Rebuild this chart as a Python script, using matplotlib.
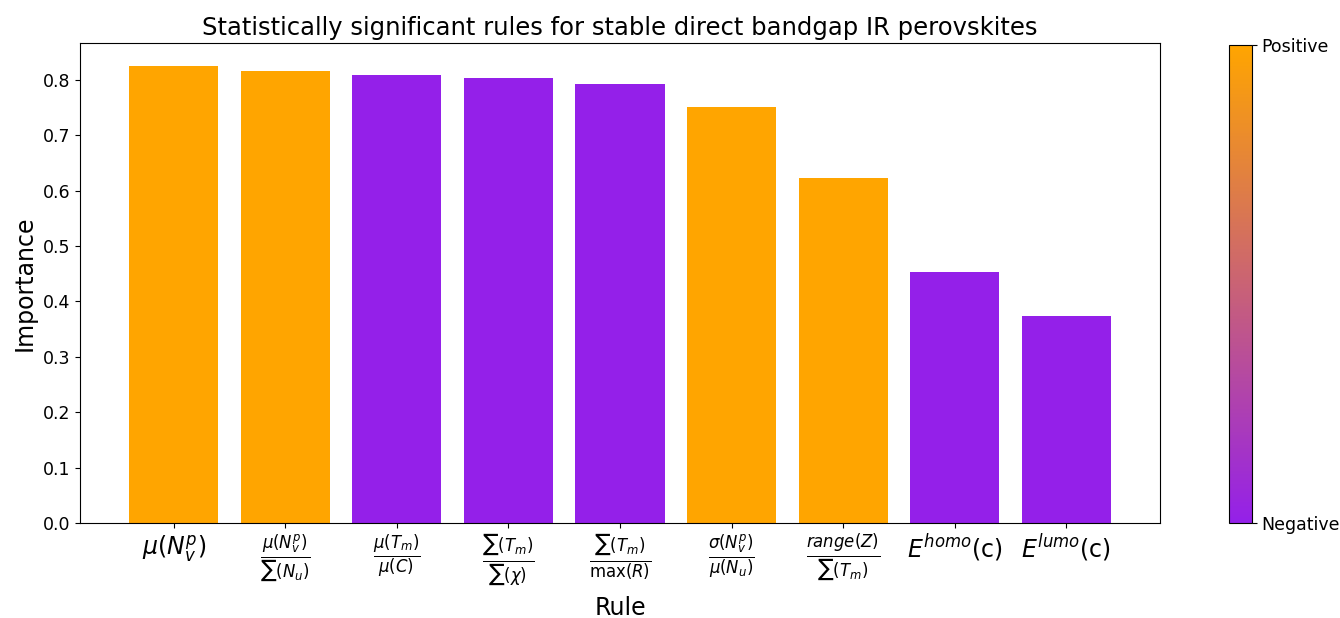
import matplotlib as mpl
import matplotlib.pyplot as plt
from matplotlib.colors import LinearSegmentedColormap

rules = [
    r'$\mu(N_v^p)$',
    r'$\frac{\mu(N_v^p)}{\sum(N_u)}$',
    r'$\frac{\mu(T_m)}{\mu(C)}$',
    r'$\frac{\sum(T_m)}{\sum(\chi)}$',
    r'$\frac{\sum(T_m)}{\max(R)}$',
    r'$\frac{\sigma(N_v^p)}{\mu(N_u)}$',
    r'$\frac{range(Z)}{\sum(T_m)}$',
    r'$E^{homo}$(c)',
    r'$E^{lumo}$(c)',
]
importance = [0.825, 0.816, 0.809, 0.804, 0.793, 0.751, 0.623, 0.453, 0.374]
positive = [True, True, False, False, False, True, True, False, False]

POS_COLOR = '#ffa500'
NEG_COLOR = '#9420e9'

fig = plt.figure(figsize=(13.4, 6.18), dpi=100)
ax = fig.add_axes([0.0597, 0.1537, 0.806, 0.7763])

colors = [POS_COLOR if p else NEG_COLOR for p in positive]
ax.bar(range(len(rules)), importance, color=colors, width=0.8)
ax.set_xticks(range(len(rules)))
ax.set_xticklabels(rules, fontsize=17)
ax.tick_params(axis='y', labelsize=12.5)
ax.set_xlabel('Rule', fontsize=17, labelpad=6)
ax.set_ylabel('Importance', fontsize=17)
ax.set_title('Statistically significant rules for stable direct bandgap IR perovskites', fontsize=17.5)

# colour bar from negative (purple) to positive (orange)
cmap = LinearSegmentedColormap.from_list('posneg', [NEG_COLOR, POS_COLOR])
cax = fig.add_axes([0.917, 0.1537, 0.017, 0.7735])
cb = mpl.colorbar.ColorbarBase(cax, cmap=cmap, norm=mpl.colors.Normalize(0, 1))
cb.set_ticks([0, 1])
cb.set_ticklabels(['Negative', 'Positive'])
cb.ax.tick_params(labelsize=12.5)

fig.savefig('out.png', dpi=100)
